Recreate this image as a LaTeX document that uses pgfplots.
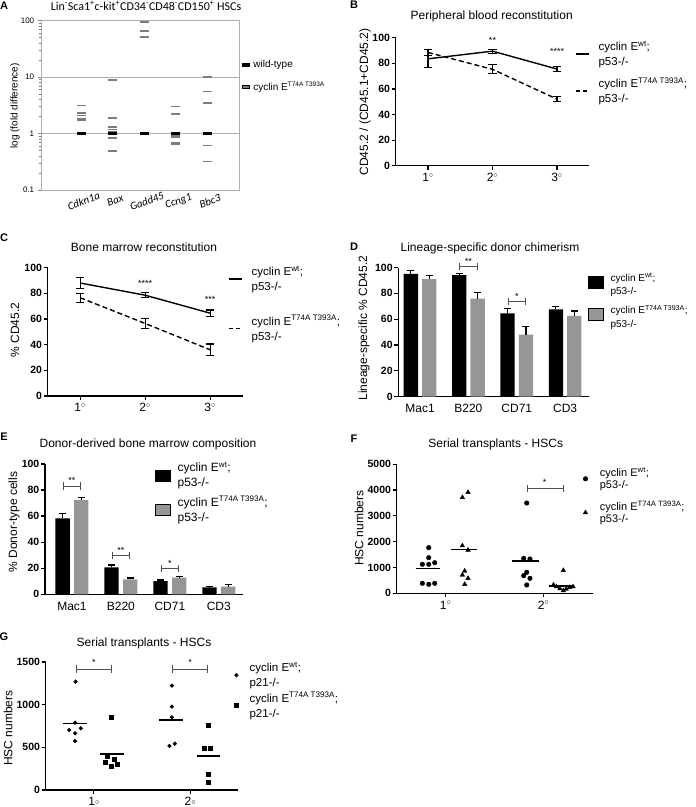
\documentclass[border=0pt]{standalone}
\usepackage{pgfplots}
\pgfplotsset{compat=1.18}
\usepackage{fontspec}
\setmainfont{Liberation Sans}
\newfontfamily\carlito{Carlito}
\definecolor{bargray}{RGB}{150,150,150}
\definecolor{agray}{RGB}{125,125,125}
\definecolor{framegray}{RGB}{175,175,175}
\definecolor{brk}{RGB}{80,80,80}
\newcommand{\fs}[1]{\fontsize{#1}{#1}\selectfont}
\pgfplotsset{
  gp/.style={
    scale only axis, clip=false,
    axis x line*=bottom, axis y line*=left,
    axis line style={line width=1.2pt, black, -},
    every tick/.style={black, line width=1.2pt},
    tick align=outside, major tick length=4pt,
    yticklabel style={font=\bfseries\fs{10.5}, inner sep=1.5pt},
    xticklabel style={font=\fs{12}},
    /pgf/number format/assume math mode=true,
    legend style={draw=none, fill=none, inner sep=0pt, font=\fontsize{11.5}{15}\selectfont,
      cells={anchor=west}, nodes={inner sep=1pt}, anchor=north west, column sep=6pt},
    legend cell align=left,
  },
  linelegend/.style={legend image code/.code={\draw[##1] (0pt,0pt) -- (13pt,0pt);}},
  sqlegendD/.style={legend image code/.code={\fill[##1] (0pt,-3pt) rectangle (15pt,8.5pt);}},
  sqlegendE/.style={legend image code/.code={\fill[##1] (0pt,-5.5pt) rectangle (15pt,5.5pt);}},
  mklegendF/.style={legend image code/.code={\draw[##1] plot coordinates {(5pt,0pt)};}},
  mklegendG/.style={legend image code/.code={\path (0pt,0pt) (10pt,0pt); \draw[##1] plot coordinates {(3pt,0pt)};}},
  errb/.style={error bars/.cd, y dir=both, y explicit, error mark=|,
    error bar style={line width=1.1pt, black, solid},
    error mark options={line width=1.1pt, mark size=4.2pt, solid, black}},
  errbp/.style={error bars/.cd, y dir=plus, y explicit, error mark=|,
    error bar style={line width=1.1pt, black, solid},
    error mark options={line width=1.1pt, mark size=3.5pt, solid, black}},
}
\tikzset{brkt/.style={|-|, brk, line width=0.8pt}}
\begin{document}
\begin{tikzpicture}
\useasboundingbox (0pt,0pt) rectangle (696pt,-807pt);

% ---------------- Panel labels and titles ----------------
\node[font=\bfseries\fs{11}] at (4pt,-6pt) {A};
\node[font=\bfseries\fs{11}] at (354pt,-5pt) {B};
\node[font=\bfseries\fs{11}] at (4pt,-238pt) {C};
\node[font=\bfseries\fs{11}] at (354pt,-247pt) {D};
\node[font=\bfseries\fs{11}] at (4pt,-437pt) {E};
\node[font=\bfseries\fs{11}] at (354pt,-439pt) {F};
\node[font=\bfseries\fs{11}] at (4pt,-637pt) {G};

\node[font=\carlito\fs{12}] at (146pt,-6pt) {Lin\textsuperscript{-}Sca1\textsuperscript{+}c-kit\textsuperscript{+}CD34\textsuperscript{-}CD48\textsuperscript{-}CD150\textsuperscript{+} HSCs};
\node[font=\fs{12}] at (491.7pt,-16pt) {Peripheral blood reconstitution};
\node[font=\fs{12}] at (144pt,-247pt) {Bone marrow reconstitution};
\node[font=\fs{12}] at (490pt,-248pt) {Lineage-specific donor chimerism};
\node[font=\fs{12}] at (148pt,-444pt) {Donor-derived bone marrow composition};
\node[font=\fs{12}] at (495.7pt,-444pt) {Serial transplants - HSCs};
\node[font=\fs{12}] at (144pt,-643pt) {Serial transplants - HSCs};

% y labels
\node[font=\fs{10}, rotate=90] at (15pt,-106pt) {log (fold difference)};
\node[font=\fs{12}, rotate=90] at (365pt,-102pt) {CD45.2 / (CD45.1+CD45.2)};
\node[font=\fs{12}, rotate=90] at (15pt,-330pt) {\% CD45.2};
\node[font=\fs{12}, rotate=90] at (364pt,-328pt) {Lineage-specific \% CD45.2};
\node[font=\fs{12}, rotate=90] at (14pt,-522pt) {\% Donor-type cells};
\node[font=\fs{12}, rotate=90] at (359pt,-528pt) {HSC numbers};
\node[font=\fs{12}, rotate=90] at (8pt,-728pt) {HSC numbers};

% ---------------- Panel A ----------------
\begin{axis}[
  at={(41.7pt,-190pt)}, anchor=south west, scale only axis, clip=false,
  width=197.3pt, height=169.3pt,
  ymode=log, ymin=0.1, ymax=100, xmin=-0.25, xmax=6,
  axis line style={framegray, line width=0.8pt},
  ytick={0.1,1,10,100}, yticklabels={0.1,1,10,100},
  minor ytick={0.2,0.3,0.4,0.5,0.6,0.7,0.8,0.9,2,3,4,5,6,7,8,9,20,30,40,50,60,70,80,90},
  xtick pos=bottom, ytick pos=left, tick align=outside,
  major tick length=4pt, minor tick length=2.5pt,
  ytick style={gray, line width=0.6pt},
  xtick style={draw=none},
  ymajorgrids, grid style={framegray, line width=0.6pt},
  xtick={1,2,3,4,5}, xticklabels={Cdkn1a,Bax,Gadd45,Ccng1,Bbc3},
  xticklabel style={font=\carlito\itshape\fs{11}, rotate=20, anchor=north},
  yticklabel style={font=\fs{8}},
  /pgf/number format/assume math mode=true,
  legend style={draw=none, fill=none, inner sep=0pt, font=\fs{10},
    cells={anchor=west}, nodes={inner sep=1pt}, anchor=north west, row sep=11pt, column sep=3pt,
    at={(axis description cs:1.014,0.774)}},
  legend cell align=left,
  legend image code/.code={\fill[#1] (0pt,-1.8pt) rectangle (7pt,1.8pt);},
]
\addplot[only marks, mark=-, mark size=4.5pt, agray, mark options={line width=1.6pt}, forget plot] coordinates {
(1,3.13)(1,2.29)(1,2.08)(1,1.82)(1,1.70)
(2,8.8)(2,1.9)(2,1.3)(2,1.18)(2,1.08)(2,1.0)(2,0.84)(2,0.49)
(3,94)(3,66)(3,51)
(4,3.0)(4,2.2)(4,0.92)(4,0.88)(4,0.70)(4,0.66)
(5,9.96)(5,5.6)(5,3.45)(5,0.61)(5,0.32)
};
\addplot[only marks, mark=-, mark size=4.5pt, black, mark options={line width=2.2pt}, forget plot] coordinates {(1,1)(2,1)(3,1)(4,1)(5,1)};
\addlegendimage{fill=black}
\addlegendentry{wild-type}
\addlegendimage{fill=agray}
\addlegendentry{cyclin E\textsuperscript{\fs{6.5}T74A T393A}}
\end{axis}

% ---------------- Panel B ----------------
\begin{axis}[gp, at={(395.7pt,-165.7pt)}, anchor=south west, width=193.6pt, height=128pt,
  xmin=0.5, xmax=3.5, ymin=0, ymax=100,
  ytick={0,20,40,60,80,100}, yticklabels={0,20,40,60,80,100},
  xtick={1,2,3}, xticklabels={1$^{\circ}$,2$^{\circ}$,3$^{\circ}$},
  linelegend, legend style={at={(axis description cs:0.926,0.985)}, row sep=9pt, column sep=8pt}]
\addplot[black, line width=1.4pt, forget plot, errb] coordinates {(1,83.5) +- (0,7) (2,89.5) +- (0,1.5) (3,75.5) +- (0,2)};
\addplot[black, line width=1.4pt, dash pattern=on 5pt off 3pt, forget plot, errb] coordinates {(1,88.5) +- (0,2.5) (2,75.3) +- (0,3.5) (3,52) +- (0,2)};
\addlegendimage{black, line width=1.4pt}
\addlegendentry[align=left]{cyclin E\textsuperscript{wt};\\p53-/-}
\addlegendimage{black, line width=1.4pt, dash pattern=on 4pt off 3pt}
\addlegendentry[align=left]{cyclin E\textsuperscript{T74A T393A};\\p53-/-}
\node[font=\fs{9}] at (axis cs:2,98) {**};
\node[font=\fs{9}] at (axis cs:3,89) {****};
\end{axis}

% ---------------- Panel C ----------------
\begin{axis}[gp, at={(47.7pt,-396pt)}, anchor=south west, width=195pt, height=128.4pt,
  xmin=0.5, xmax=3.5, ymin=0, ymax=100,
  ytick={0,20,40,60,80,100}, yticklabels={0,20,40,60,80,100},
  xtick={1,2,3}, xticklabels={1$^{\circ}$,2$^{\circ}$,3$^{\circ}$},
  linelegend, legend style={at={(axis description cs:0.925,1.021)}, row sep=21pt, column sep=8pt}]
\addplot[black, line width=1.4pt, forget plot, errb] coordinates {(1,88) +- (0,4) (2,78.5) +- (0,2) (3,64.5) +- (0,2.5)};
\addplot[black, line width=1.4pt, dash pattern=on 5pt off 3pt, forget plot, errb] coordinates {(1,76.5) +- (0,3.6) (2,56.5) +- (0,4) (3,36) +- (0,4.5)};
\addlegendimage{black, line width=1.4pt}
\addlegendentry[align=left]{cyclin E\textsuperscript{wt};\\p53-/-}
\addlegendimage{black, line width=1.4pt, dash pattern=on 4pt off 3pt}
\addlegendentry[align=left]{cyclin E\textsuperscript{T74A T393A};\\p53-/-}
\node[font=\fs{9}] at (axis cs:2,88) {****};
\node[font=\fs{9}] at (axis cs:3,75) {***};
\end{axis}

% ---------------- Panel D ----------------
\begin{axis}[gp, at={(398.3pt,-396.7pt)}, anchor=south west, width=191pt, height=129.2pt,
  xmin=0.55, xmax=4.5, ymin=0, ymax=100,
  ytick={0,20,40,60,80,100}, yticklabels={0,20,40,60,80,100},
  xtick={1,2,3,4}, xticklabels={Mac1,B220,CD71,CD3}, xtick style={draw=none},
  sqlegendD, legend style={at={(axis description cs:0.993,0.965)}, row sep=7pt, column sep=6pt,
    font=\fontsize{10}{13.5}\selectfont}]
\addplot[ybar, bar width=14.3pt, bar shift=0pt, fill=black, draw=none, forget plot, errbp] coordinates {
  (0.81,95) +- (0,2.5) (1.81,94.2) +- (0,1) (2.81,64.5) +- (0,3.9) (3.81,67.6) +- (0,2)};
\addplot[ybar, bar width=14.3pt, bar shift=0pt, fill=bargray, draw=none, forget plot, errbp] coordinates {
  (1.19,91) +- (0,3) (2.19,76) +- (0,4.7) (3.19,48) +- (0,6.4) (4.19,62.5) +- (0,3.8)};
\addlegendimage{fill=black}
\addlegendentry[align=left]{cyclin E\textsuperscript{wt};\\p53-/-}
\addlegendimage{fill=bargray}
\addlegendentry[align=left]{cyclin E\textsuperscript{T74A T393A};\\p53-/-}
\draw[brkt] (axis cs:1.81,100.5) -- (axis cs:2.19,100.5);
\node[font=\fs{9}] at (axis cs:2,104.5) {**};
\draw[brkt] (axis cs:2.81,73.5) -- (axis cs:3.19,73.5);
\node[font=\fs{9}] at (axis cs:3,77.5) {*};
\end{axis}

% ---------------- Panel E ----------------
\begin{axis}[gp, at={(45pt,-594.3pt)}, anchor=south west, width=198.3pt, height=130.4pt,
  xmin=0.45, xmax=4.5, ymin=0, ymax=100,
  ytick={0,20,40,60,80,100}, yticklabels={0,20,40,60,80,100},
  xtick={1,2,3,4}, xticklabels={Mac1,B220,CD71,CD3}, xtick style={draw=none},
  sqlegendE, legend style={at={(axis description cs:0.555,1.022)}, row sep=6pt, column sep=6pt,
    font=\fontsize{12}{15}\selectfont}]
\addplot[ybar, bar width=14.3pt, bar shift=0pt, fill=black, draw=none, forget plot, errbp] coordinates {
  (0.81,58.3) +- (0,3.8) (1.81,20.7) +- (0,1.8) (2.81,10.2) +- (0,0.8) (3.81,5.4) +- (0,0.4)};
\addplot[ybar, bar width=14.3pt, bar shift=0pt, fill=bargray, draw=none, forget plot, errbp] coordinates {
  (1.19,72.4) +- (0,2) (2.19,11.5) +- (0,1) (3.19,12.8) +- (0,0.8) (4.19,5.9) +- (0,1.3)};
\addlegendimage{fill=black}
\addlegendentry[align=left]{cyclin E\textsuperscript{wt};\\p53-/-}
\addlegendimage{fill=bargray}
\addlegendentry[align=left]{cyclin E\textsuperscript{T74A T393A};\\p53-/-}
\draw[brkt] (axis cs:0.81,83) -- (axis cs:1.19,83);
\node[font=\fs{9}] at (axis cs:1,87) {**};
\draw[brkt] (axis cs:1.81,29.5) -- (axis cs:2.19,29.5);
\node[font=\fs{9}] at (axis cs:2,33.5) {**};
\draw[brkt] (axis cs:2.81,19.7) -- (axis cs:3.19,19.7);
\node[font=\fs{9}] at (axis cs:3,23.7) {*};
\end{axis}

% ---------------- Panel F ----------------
\begin{axis}[gp, at={(396.7pt,-593.3pt)}, anchor=south west, width=196pt, height=129.1pt,
  xmin=0.5, xmax=2.5, ymin=0, ymax=5000,
  ytick={0,1000,2000,3000,4000,5000}, yticklabels={0,1000,2000,3000,4000,5000},
  xtick={1,2}, xticklabels={1$^{\circ}$,2$^{\circ}$},
  mklegendF, legend style={at={(axis description cs:0.9505,0.985)}, row sep=8.6pt, column sep=11pt,
    font=\fontsize{11}{12.5}\selectfont}]
\addplot[only marks, mark=*, mark size=2.3pt, black, forget plot] coordinates {
 (0.827,1768) (0.827,1381) (0.762,1123) (0.827,1123) (0.888,1187) (0.762,387) (0.827,348) (0.888,387)
 (1.827,3497) (1.796,1355) (1.86,1329) (1.827,813) (1.796,684) (1.86,580) (1.827,323)};
\addplot[only marks, mark=triangle*, mark size=2.6pt, black, forget plot] coordinates {
 (1.17,3716) (1.228,3910) (1.17,1845) (1.228,1677) (1.194,865) (1.17,710) (1.228,580) (1.194,348)
 (2.2,890) (2.10,323) (2.13,258) (2.165,180) (2.2,103) (2.23,168) (2.265,232) (2.30,258)};
\addplot[black, line width=1.2pt, forget plot] coordinates {(0.694,955) (0.94,955)};
\addplot[black, line width=1.2pt, forget plot] coordinates {(1.058,1703) (1.32,1703)};
\addplot[black, line width=1.2pt, forget plot] coordinates {(1.68,1252) (1.955,1252)};
\addplot[black, line width=1.2pt, forget plot] coordinates {(2.05,284) (2.30,284)};
\addlegendimage{only marks, mark=*, mark size=2.3pt, black}
\addlegendentry[align=left]{cyclin E\textsuperscript{wt};\\p53-/-}
\addlegendimage{only marks, mark=triangle*, mark size=2.6pt, black}
\addlegendentry[align=left]{cyclin E\textsuperscript{T74A T393A};\\p53-/-}
\draw[brkt] (axis cs:1.827,4064) -- (axis cs:2.2,4064);
\node[font=\fs{9}] at (axis cs:2.01,4300) {*};
\end{axis}

% ---------------- Panel G ----------------
\begin{axis}[gp, at={(45.7pt,-790pt)}, anchor=south west, width=192.6pt, height=128pt,
  xmin=0.5, xmax=2.5, ymin=0, ymax=1500,
  ytick={0,500,1000,1500}, yticklabels={0,500,1000,1500},
  xtick={1,2}, xticklabels={1\raisebox{0.15ex}{\fs{8}$\circ$},2\raisebox{0.15ex}{\fs{8}$\circ$}},
  mklegendG, legend style={at={(axis description cs:0.9725,1.008)}, row sep=2pt, column sep=5pt}]
\addplot[only marks, mark=*, mark size=1.9pt, black, forget plot] coordinates {
 (0.81,1270) (0.805,789) (0.744,703) (0.865,723) (0.805,664) (0.805,574)
 (1.81,1223) (1.81,977) (1.81,852) (1.785,516) (1.841,543)};
\addplot[only marks, mark=square*, mark size=2pt, black, forget plot] coordinates {
 (1.184,848) (1.138,402) (1.211,363) (1.114,324) (1.242,301) (1.177,281)
 (2.187,754) (2.146,488) (2.21,488) (2.187,184) (2.187,90)};
\addplot[black, line width=1.2pt, forget plot] coordinates {(0.675,781) (0.93,781)};
\addplot[black, line width=1.2pt, forget plot] coordinates {(1.062,422) (1.31,422)};
\addplot[black, line width=1.2pt, forget plot] coordinates {(1.68,820) (1.93,820)};
\addplot[black, line width=1.2pt, forget plot] coordinates {(2.07,398) (2.31,398)};
\addlegendimage{only marks, mark=*, mark size=1.9pt, black}
\addlegendentry[align=left]{cyclin E\textsuperscript{wt};\\p21-/-}
\addlegendimage{only marks, mark=square*, mark size=2pt, black}
\addlegendentry[align=left]{cyclin E\textsuperscript{T74A T393A};\\p21-/-}
\draw[brkt] (axis cs:0.81,1418) -- (axis cs:1.184,1418);
\node[font=\fs{9}] at (axis cs:1,1500) {*};
\draw[brkt] (axis cs:1.81,1418) -- (axis cs:2.187,1418);
\node[font=\fs{9}] at (axis cs:2,1500) {*};
\end{axis}
\end{tikzpicture}
\end{document}
